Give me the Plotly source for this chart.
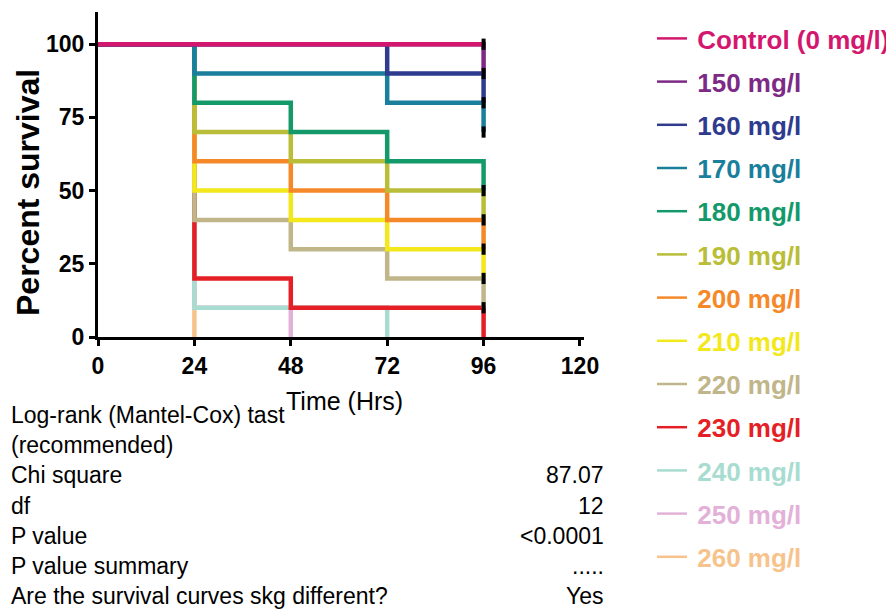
import plotly.graph_objects as go

# ---------------- data ----------------
times = [0, 24, 48, 72, 96]
series_names = ["Control (0 mg/l)", "150 mg/l", "160 mg/l", "170 mg/l", "180 mg/l",
                "190 mg/l", "200 mg/l", "210 mg/l", "220 mg/l", "230 mg/l",
                "240 mg/l", "250 mg/l", "260 mg/l"]
surv_control = [100, 100, 100, 100, 100]
surv_150 = [100, 100, 100, 100, 90]
surv_160 = [100, 100, 100, 90, 80]
surv_170 = [100, 90, 90, 80, 70]
surv_180 = [100, 80, 70, 60, 50]
surv_190 = [100, 70, 60, 50, 40]
surv_200 = [100, 60, 50, 40, 30]
surv_210 = [100, 50, 40, 30, 20]
surv_220 = [100, 40, 30, 20, 10]
surv_230 = [100, 20, 10, 10, 0]
surv_240 = [100, 10, 10, 0, None]
surv_250 = [100, 10, 0, None, None]
surv_260 = [100, 0, None, None, None]
series_values = [surv_control, surv_150, surv_160, surv_170, surv_180, surv_190,
                 surv_200, surv_210, surv_220, surv_230, surv_240, surv_250, surv_260]
series_colors = ["#d4176e", "#7d2a86", "#2f3b8f", "#1a7f9c", "#14996a", "#b9bd38",
                 "#f5892a", "#f2e81c", "#c1b58a", "#e41f26", "#a9dcd0", "#e3b1d8", "#f7c38c"]

x_ticks = [0, 24, 48, 72, 96, 120]
y_ticks = [0, 25, 50, 75, 100]

stat_labels = ["Log-rank (Mantel-Cox) tast", "(recommended)", "Chi square", "df",
               "P value", "P value summary", "Are the survival curves skg different?"]
stat_values = ["", "", "87.07", "12", "<0.0001", ".....", "Yes"]

FONT = "Liberation Sans, Arial, sans-serif"

# ---------------- figure ----------------
# the page body has an 8px default margin; lay out in screen pixels and offset
OFF = 8
SW, SH = 894, 611
W, H = SW - OFF, SH - OFF
PL, PT, PR, PB = 98, 12, 584, 337          # plot area edges in screen px
ML, MT = PL - OFF, PT - OFF
MR, MB = SW - PR, SH - PB
PW, PH = PR - PL, PB - PT


def px_x(px):
    return (px - PL) / PW


def px_y(py):
    return (PB - py) / PH


fig = go.Figure()

# draw highest concentration first so lower concentrations sit on top
n = len(series_names)
for i in reversed(range(n)):
    fig.add_trace(go.Scatter(
        x=times, y=series_values[i], mode="lines",
        line=dict(color=series_colors[i], width=4.5, shape="hv"),
        name=series_names[i], showlegend=False,
        connectgaps=False, hoverinfo="skip",
    ))

# legend entries (thin key lines, coloured labels)
for i in range(n):
    fig.add_trace(go.Scatter(
        x=[None], y=[None], mode="lines",
        line=dict(color=series_colors[i], width=2.5),
        name=f"\u2009<span style='color:{series_colors[i]}'>{series_names[i]}</span>",
        legendgroup=f"g{i}", showlegend=True, hoverinfo="skip",
    ))

# censor ticks at the last time point for groups with survivors
cx, cy = [], []
for vals in series_values:
    if vals[-1] is not None and vals[-1] > 0:
        cx.append(times[-1])
        cy.append(vals[-1])
fig.add_trace(go.Scatter(
    x=cx, y=cy, mode="markers", showlegend=False, hoverinfo="skip",
    marker=dict(symbol="line-ns", size=8, line=dict(color="black", width=4)),
))

annotations = []
# y title
annotations.append(dict(
    text="<b>Percent survival</b>", x=px_x(28), y=px_y(193), xref="paper", yref="paper",
    textangle=-90, showarrow=False, font=dict(family=FONT, size=32, color="black"),
    xanchor="center", yanchor="middle"))
# x title
annotations.append(dict(
    text="Time (Hrs)", x=px_x(344), y=px_y(401), xref="paper", yref="paper",
    showarrow=False, font=dict(family=FONT, size=25, color="black"),
    xanchor="center", yanchor="middle"))
# stats table
row0, row_gap = 415, 30.2
for k, (lab, val) in enumerate(zip(stat_labels, stat_values)):
    yy = px_y(row0 + k * row_gap)
    annotations.append(dict(
        text=lab, x=px_x(9), y=yy, xref="paper", yref="paper", showarrow=False,
        font=dict(family=FONT, size=23, color="black"), xanchor="left", yanchor="middle"))
    if val:
        annotations.append(dict(
            text=val, x=px_x(606), y=yy, xref="paper", yref="paper", showarrow=False,
            font=dict(family=FONT, size=23, color="black"), xanchor="right", yanchor="middle"))

axis_common = dict(
    showline=True, linecolor="black", linewidth=3, ticks="outside", ticklen=6,
    tickwidth=3, tickcolor="black", showgrid=False, zeroline=False,
    tickfont=dict(family=FONT, size=23, color="black", weight="bold"),
)

fig.update_layout(
    width=W, height=H, margin=dict(l=ML, r=MR, t=MT, b=MB, autoexpand=False),
    paper_bgcolor="white", plot_bgcolor="white",
    xaxis=dict(range=[0, 121], tickvals=x_ticks, **axis_common),
    yaxis=dict(range=[0, 111], tickvals=y_ticks, **axis_common),
    legend=dict(
        x=px_x(652), y=px_y(15), xanchor="left", yanchor="top",
        font=dict(family=FONT, size=26, weight="bold"),
        itemwidth=30, tracegroupgap=6.4, traceorder="grouped",
        bgcolor="rgba(0,0,0,0)", maxheight=611,
    ),
    annotations=annotations,
    showlegend=True,
)

fig.write_html("out.html")
